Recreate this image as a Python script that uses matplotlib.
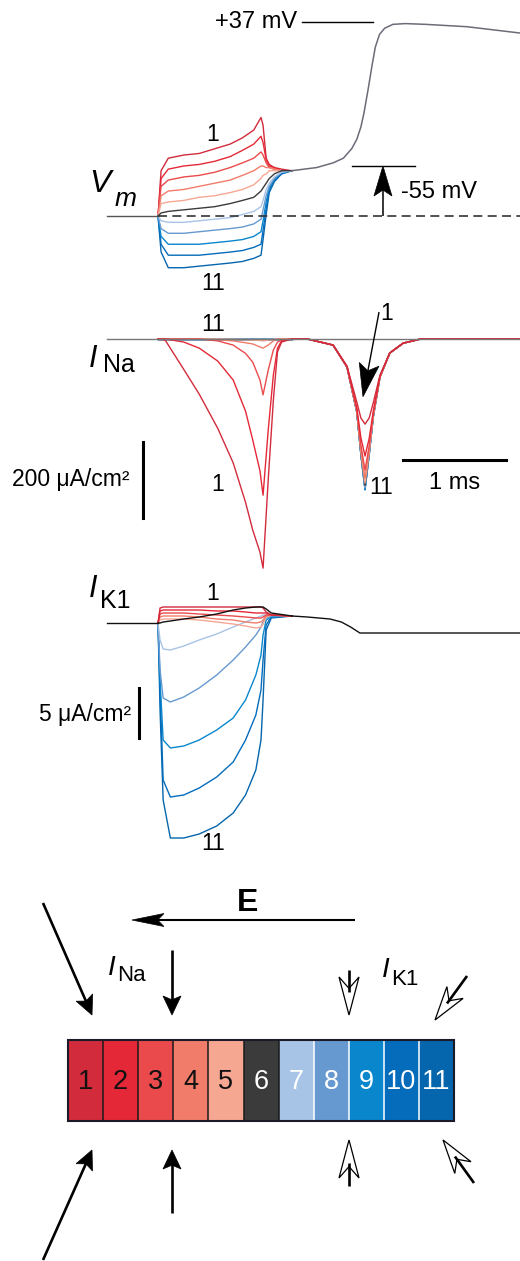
import numpy as np
import matplotlib
matplotlib.use('Agg')
import matplotlib.pyplot as plt
from matplotlib.patches import Polygon, Rectangle
from matplotlib.lines import Line2D
from matplotlib.transforms import IdentityTransform

plt.rcParams['font.family'] = ['Liberation Sans', 'DejaVu Sans']

# ---- data ----
# colours of the 11 cells (1 = most depolarised ... 11 = most hyperpolarised)
cell_colors = ['#d22b3c', '#e52837', '#ea4a4b', '#f17c6a', '#f6a792', '#3b3b3b',
               '#a7c3e5', '#6699d0', '#0a86cd', '#046cbb', '#0566ae']
cell_labels = ['1', '2', '3', '4', '5', '6', '7', '8', '9', '10', '11']

# Vm (mV) during the 1 ms step, time in ms
t_vm_step = [0, 0.03, 0.1, 0.25, 0.4, 0.55, 0.7, 0.82, 0.93, 1.0, 1.02, 1.05, 1.08, 1.13, 1.2, 1.3]
vm_step = [
    [-87, -58, -50, -48, -47, -44, -41, -37, -32, -24, -29, -50, -54, -56, -57, -58],
    [-87, -63, -57, -55, -54, -52, -49, -45, -41, -36, -40, -51, -55, -56, -58, -58],
    [-87, -68, -64, -62, -61, -59, -56, -53, -50, -46, -48, -53, -56, -57, -58, -58],
    [-87, -74, -71, -70, -68, -66, -64, -61, -58, -55, -55, -56, -56, -57, -58, -58],
    [-87, -79, -78, -77, -75, -74, -72, -70, -67, -63, -61, -60, -58, -58, -58, -58],
    [-87, -85, -84, -83, -82, -81, -79, -77, -75, -71, -69, -66, -63, -60, -58, -58],
    [-87, -90, -91, -91, -90, -89, -88, -86, -84, -81, -77, -70, -66, -62, -59, -58],
    [-87, -95, -98, -98, -97, -96, -95, -94, -92, -89, -83, -74, -68, -63, -59, -58],
    [-87, -100, -105, -105, -105, -104, -103, -102, -100, -97, -90, -78, -69, -63, -59, -58],
    [-87, -105, -112, -112, -112, -111, -110, -109, -107, -105, -96, -82, -70, -64, -60, -58],
    [-87, -110, -120, -120, -119, -118, -117, -116, -114, -112, -102, -86, -72, -65, -60, -58],
]
# common upstroke after the step
t_vm_tail = [1.3, 1.54, 1.7, 1.8, 1.88, 1.93, 1.97, 2.0, 2.04, 2.08, 2.11, 2.15, 2.2, 2.28,
             2.4, 2.6, 3.0, 3.51]
vm_tail = [-58, -56, -53, -50, -44, -38, -30, -21, -6, 10, 21, 29, 33, 35.5,
           36, 35.5, 34, 30]
v_rest = -87

# INa (uA/cm2) during the step
t_na_step = [0, 0.07, 0.25, 0.4, 0.58, 0.73, 0.85, 0.92, 0.99, 1.02, 1.07, 1.12, 1.16, 1.2, 1.3]
na_step = [
    [0, -3, -80, -145, -235, -326, -430, -503, -561, -603, -371, -161, -34, -8, 0],
    [0, 0, -8, -24, -58, -108, -190, -266, -347, -411, -240, -95, -24, -5, 0],
    [0, 0, 0, 0, -5, -16, -38, -61, -108, -147, -82, -29, -8, -3, 0],
    [0, 0, 0, 0, -2, -5, -10, -13, -21, -24, -16, -5, 0, 0, 0],
    [0, 0, 0, 0, 0, -1, -2, -3, -4, -5, -3, -1, 0, 0, 0],
    [0] * 15, [0] * 15, [0] * 15, [0] * 15, [0] * 15, [0] * 15,
]
# INa during the action potential upstroke
t_na_ap = [1.3, 1.45, 1.7, 1.835, 1.93, 1.97, 2.01, 2.05, 2.09, 2.155, 2.25, 2.38, 2.55, 3.51]
na_ap = [
    [0, 0, -16, -71, -166, -208, -224, -208, -168, -95, -37, -11, 0, 0],
    [0, 0, -16, -73, -180, -260, -308, -262, -190, -98, -37, -11, 0, 0],
    [0, 0, -16, -73, -185, -280, -345, -282, -196, -99, -37, -11, 0, 0],
    [0, 0, -16, -74, -188, -290, -366, -292, -200, -100, -37, -11, 0, 0],
    [0, 0, -16, -74, -190, -296, -379, -298, -202, -100, -37, -11, 0, 0],
    [0, 0, -16, -74, -191, -300, -386, -300, -203, -100, -37, -11, 0, 0],
    [0, 0, -16, -74, -191, -301, -389, -302, -204, -100, -37, -11, 0, 0],
    [0, 0, -16, -74, -192, -302, -392, -303, -204, -100, -37, -11, 0, 0],
    [0, 0, -16, -74, -192, -303, -394, -304, -205, -100, -37, -11, 0, 0],
    [0, 0, -16, -74, -192, -304, -396, -305, -205, -100, -37, -11, 0, 0],
    [0, 0, -16, -74, -192, -305, -397, -305, -205, -100, -37, -11, 0, 0],
]

# IK1 (uA/cm2) during the step
t_k1_step = [0, 0.02, 0.05, 0.12, 0.25, 0.4, 0.57, 0.73, 0.85, 0.95, 1.0, 1.02, 1.05, 1.1, 1.3]
k1_step = [
    [0, 1.5, 1.6, 1.6, 1.6, 1.6, 1.6, 1.6, 1.6, 1.6, 1.6, 1.5, 1.1, 0.8, 0.7],
    [0, 1.2, 1.3, 1.3, 1.3, 1.3, 1.2, 1.2, 1.1, 1.0, 1.0, 1.0, 1.0, 0.8, 0.7],
    [0, 0.9, 1.0, 1.0, 1.0, 0.9, 0.8, 0.7, 0.6, 0.5, 0.5, 0.6, 0.8, 0.8, 0.7],
    [0, 0.6, 0.7, 0.7, 0.7, 0.6, 0.4, 0.3, 0.1, 0.0, 0.1, 0.3, 0.7, 0.8, 0.7],
    [0, 0.3, 0.4, 0.4, 0.4, 0.3, 0.1, -0.1, -0.3, -0.5, -0.4, -0.1, 0.6, 0.8, 0.7],
    [0, 0.0, 0.1, 0.2, 0.4, 0.6, 0.9, 1.3, 1.5, 1.6, 1.6, 1.6, 1.4, 1.0, 0.7],
    [0, -1.7, -2.6, -2.7, -2.3, -1.7, -1.1, -0.4, 0.1, 0.5, 0.7, 0.8, 0.8, 0.8, 0.7],
    [0, -4.7, -7.5, -7.9, -7.4, -6.5, -5.2, -3.7, -2.4, -1.2, -0.4, 0.1, 0.5, 0.7, 0.7],
    [0, -5.7, -11.7, -12.5, -12.3, -11.7, -10.7, -9.5, -7.7, -5.2, -3.2, -1.2, 0.3, 0.6, 0.7],
    [0, -6.7, -15.7, -17.4, -17.2, -16.5, -15.4, -13.9, -11.7, -9.2, -6.7, -3.7, -0.2, 0.6, 0.7],
    [0, -8.7, -17.7, -21.5, -21.5, -21.1, -20.3, -19.0, -17.2, -14.7, -11.7, -7.7, -0.7, 0.5, 0.7],
]
t_k1_tail = [1.3, 1.45, 1.67, 1.78, 1.87, 1.96, 3.51]
k1_tail = [0.7, 0.6, 0.4, 0.1, -0.4, -1.0, -1.0]

# ---- figure ----
W, H = 520, 1261
fig = plt.figure(figsize=(W / 100, H / 100), dpi=100)
FS = 17
FN = 16.5


def panel(x0, xs, y0, v0, ys):
    # transparent axes over the whole figure; x0/y0 = pixel of reference value, xs/ys = px per unit
    ax = fig.add_axes([0, 0, 1, 1])
    ax.axis('off')
    ax.patch.set_alpha(0)
    ax.set_xlim(-x0 / xs, (W - x0) / xs)
    ax.set_ylim(v0 - (H - y0) / ys, v0 + y0 / ys)
    return ax


def arrow(ax, start, tip, L, Wh, notch=0.8, lw=1.5, hollow=False, shaft_to=0.6):
    p0 = ax.transData.transform(start)
    p1 = ax.transData.transform(tip)
    d = p1 - p0
    u = d / np.hypot(*d)
    n = np.array([-u[1], u[0]])
    back = p1 - L * u
    pts = [p1, back + Wh * n, p1 - notch * L * u, back - Wh * n]
    ax.add_patch(Polygon(pts, closed=True, transform=IdentityTransform(),
                         fc='white' if hollow else 'black', ec='black',
                         lw=0.9 if hollow else 0.5, zorder=6))
    pe = p1 - shaft_to * L * u
    ax.add_line(Line2D([p0[0], pe[0]], [p0[1], pe[1]], transform=IdentityTransform(),
                       color='black', lw=lw, zorder=7 if hollow else 5,
                       solid_capstyle='butt'))


order = [0, 1, 2, 3, 4, 10, 9, 8, 7, 6, 5]

# ---- Vm panel ----
ax_v = panel(158, 103, 166, -55, 1.565)
for i in order:
    ax_v.plot(t_vm_step, vm_step[i], color=cell_colors[i], lw=1.0, zorder=2)
ax_v.plot(t_vm_tail, vm_tail, color='#6e6a78', lw=1.1, zorder=2)
ax_v.plot([-0.5, 0], [v_rest, v_rest], color='#555555', lw=1.0, zorder=3)
ax_v.plot([0, 3.51], [v_rest, v_rest], color='#333333', lw=1.2,
          ls=(0, (5.4, 3.2)), zorder=3)
ax_v.plot([1.398, 2.087], [37, 37], color='black', lw=1.0)
ax_v.text(1.35, 37, '+37 mV', fontsize=FS, ha='right', va='center')
ax_v.plot([1.883, 2.495], [-55, -55], color='black', lw=1.0)
arrow(ax_v, (2.184, v_rest), (2.184, -55), L=30, Wh=9, lw=1.1)
ax_v.text(2.36, -71.6, '-55 mV', fontsize=FS, ha='left', va='center')
ax_v.text(0.534, -35, '1', fontsize=FN, ha='center', va='center')
ax_v.text(0.534, -130, '11', fontsize=FN, ha='center', va='center')
ax_v.text(-0.67, -71.6, 'V', fontsize=23, style='italic', ha='left', va='baseline')
ax_v.text(-0.42, -80.5, 'm', fontsize=19, style='italic', ha='left', va='baseline')

# ---- INa panel ----
ax_na = panel(158, 103, 339, 0, 0.38)
for i in [10, 9, 8, 7, 6, 5, 4, 3, 2, 1, 0]:
    ax_na.plot(t_na_step, na_step[i], color=cell_colors[i], lw=1.0, zorder=2)
    ax_na.plot(t_na_ap, na_ap[i], color=cell_colors[i], lw=1.0, zorder=2)
ax_na.plot([-0.5, 3.51], [0, 0], color='#777777', lw=1.0, zorder=3)
ax_na.plot([-0.146, -0.146], [-471, -271], color='black', lw=2.2)
ax_na.text(-0.28, -371, '200 \u03bcA/cm\u00b2', fontsize=FS - 0.5, ha='right', va='center')
ax_na.plot([2.379, 3.379], [-318, -318], color='black', lw=2.2)
ax_na.text(2.88, -379, '1 ms', fontsize=FS, ha='center', va='center')
ax_na.text(0.534, 37, '11', fontsize=FN, ha='center', va='center')
ax_na.text(0.583, -384, '1', fontsize=FN, ha='center', va='center')
arrow(ax_na, (2.146, 71), (1.990, -152), L=33, Wh=10, lw=1.0)
ax_na.text(2.223, 66, '1', fontsize=FN, ha='center', va='center')
ax_na.text(2.17, -392, '11', fontsize=FN, ha='center', va='center')
ax_na.text(-0.67, -73.7, 'I', fontsize=22, style='italic', ha='left', va='baseline')
ax_na.text(-0.53, -86.8, 'Na', fontsize=18, ha='left', va='baseline')

# ---- IK1 panel ----
ax_k = panel(158, 103, 623, 0, 10)
for i in [10, 9, 8, 7, 6, 4, 3, 2, 1, 0, 5]:
    ax_k.plot(t_k1_step, k1_step[i], color=cell_colors[i] if i != 5 else '#111111',
              lw=1.0, zorder=2)
ax_k.plot(t_k1_tail, k1_tail, color='#111111', lw=1.0, zorder=2)
ax_k.plot([-0.5, 0], [0, 0], color='#111111', lw=1.0, zorder=2)
ax_k.plot([-0.184, -0.184], [-11.5, -6.5], color='black', lw=2.2)
ax_k.text(-0.265, -9.2, '5 \u03bcA/cm\u00b2', fontsize=FS - 0.5, ha='right', va='center')
ax_k.text(0.534, 3.0, '1', fontsize=FN, ha='center', va='center')
ax_k.text(0.534, -22, '11', fontsize=FN, ha='center', va='center')
ax_k.text(-0.67, 2.6, 'I', fontsize=22, style='italic', ha='left', va='baseline')
ax_k.text(-0.56, 1.5, 'K1', fontsize=18, ha='left', va='baseline')

# ---- schematic cable ----
ax_s = panel(68, 35.1, 1121, 0, 35.1)
cell_h = 2.31
for i, c in enumerate(cell_colors):
    ax_s.add_patch(Rectangle((i, 0), 1, cell_h, fc=c, ec='none', zorder=2))
    ax_s.text(i + 0.5, 1.11, cell_labels[i], fontsize=19.5, ha='center', va='center',
              color='#111111' if i < 5 else 'white', zorder=4)
for i in range(1, 11):
    ax_s.plot([i, i], [0, cell_h], color='#1a1a1a' if i <= 6 else 'white', lw=1.1, zorder=3)
ax_s.add_patch(Rectangle((0, 0), 11, cell_h, fill=False, ec='#1a1a28', lw=1.5, zorder=4))

ax_s.text(5.128, 6.21, 'E', fontsize=23, fontweight='bold', ha='center', va='center')
arrow(ax_s, (8.177, 5.726), (1.823, 5.726), L=32, Wh=6.5, lw=1.5)
ax_s.text(1.15, 4.16, 'I', fontsize=20, style='italic', ha='left', va='baseline')
ax_s.text(1.40, 4.0, 'Na', fontsize=16, ha='left', va='baseline')
ax_s.text(8.93, 4.10, 'I', fontsize=20, style='italic', ha='left', va='baseline')
ax_s.text(9.2, 3.88, 'K1', fontsize=16, ha='left', va='baseline')

# filled arrows (INa side)
arrow(ax_s, (-0.712, 6.211), (0.684, 3.020), L=19, Wh=9, lw=1.9)
arrow(ax_s, (2.963, 4.872), (2.963, 3.020), L=19, Wh=9, lw=1.9)
arrow(ax_s, (-0.712, -3.96), (0.684, -0.826), L=19, Wh=9, lw=1.9)
arrow(ax_s, (2.963, -2.621), (2.963, -0.826), L=19, Wh=9, lw=1.9)
# open arrows (IK1 side)
arrow(ax_s, (8.006, 4.30), (8.006, 3.020), L=38, Wh=10, notch=0.7, lw=1.9, hollow=True)
arrow(ax_s, (11.368, 4.131), (10.456, 2.877), L=34, Wh=10, notch=0.7, lw=1.9, hollow=True)
arrow(ax_s, (8.006, -1.85), (8.006, -0.541), L=38, Wh=10, notch=0.7, lw=1.9, hollow=True)
arrow(ax_s, (11.567, -1.766), (10.684, -0.541), L=34, Wh=10, notch=0.7, lw=1.9, hollow=True)

fig.savefig('out.png', dpi=100)
